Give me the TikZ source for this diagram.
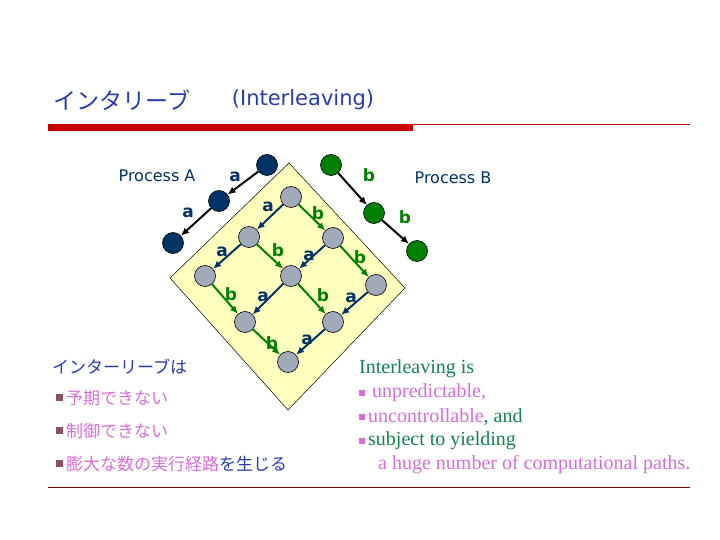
\documentclass[tikz,border=0pt]{standalone}
\usepackage{fontspec}
\setmainfont{Liberation Serif}
\newfontfamily\jp{Noto Sans CJK JP}
\newfontfamily\sans{DejaVu Sans}
\usetikzlibrary{arrows.meta}
\definecolor{navy}{RGB}{0,51,102}
\definecolor{grn}{RGB}{0,128,0}
\definecolor{gry}{RGB}{160,170,185}
\definecolor{ttl}{RGB}{40,60,170}
\definecolor{pnk}{RGB}{215,110,215}
\definecolor{egr}{RGB}{20,130,80}
\definecolor{bar}{RGB}{200,0,0}
\definecolor{yel}{RGB}{255,255,190}
\definecolor{bul}{RGB}{140,80,100}
\begin{document}
\begin{tikzpicture}[x=1pt,y=-1pt,
  st/.style={circle,draw=black,line width=0.6pt,minimum size=21pt,inner sep=0pt},
  gs/.style={st,fill=gry},
  as/.style={st,fill=navy},
  bs/.style={st,fill=grn},
  ea/.style={-{Latex[length=8pt,width=7pt]},line width=2pt,draw=navy},
  eb/.style={-{Latex[length=8pt,width=7pt]},line width=2pt,draw=grn},
  ep/.style={-{Latex[length=8pt,width=7pt]},line width=2pt,draw=black},
  la/.style={text=navy,font=\sans\bfseries\fontsize{17}{17}\selectfont,inner sep=0pt},
  lb/.style={text=grn,font=\sans\bfseries\fontsize{17}{17}\selectfont,inner sep=0pt},
  pl/.style={text=navy,font=\sans\fontsize{16}{16}\selectfont,inner sep=0pt},
  jl/.style={font=\jp\fontsize{17}{17}\selectfont,anchor=west,inner sep=0pt},
  el/.style={font=\fontsize{20}{20}\selectfont,anchor=west,inner sep=0pt}]
\path[use as bounding box] (0,0) rectangle (720,540);
% title
\node[text=ttl,font=\jp\fontsize{23}{23}\selectfont] (t1) at (122,100) {インタリーブ};
\node[text=ttl,font=\sans\fontsize{21}{21}\selectfont] (t2) at (303,100) {(Interleaving)};
\fill[bar] (48,124) rectangle (413,131);
\draw[bar,line width=0.6pt] (413,124) -- (690,124);
\draw[bar!70!black,line width=0.8pt] (48,487) -- (690,487);
% diamond
\draw[fill=yel,line width=0.5pt] (289,163) -- (405,288) -- (288,410) -- (170,278) -- cycle;
% grid
\node[gs] (g00) at (291,197) {};
\node[gs] (g10) at (249,237) {};
\node[gs] (g01) at (333,238) {};
\node[gs] (g20) at (205,276) {};
\node[gs] (g11) at (291,276) {};
\node[gs] (g02) at (376,285) {};
\node[gs] (g21) at (245,322) {};
\node[gs] (g12) at (333,322) {};
\node[gs] (g22) at (288,362) {};
\draw[ea] (g00)--(g10); \draw[eb] (g00)--(g01);
\draw[ea] (g10)--(g20); \draw[eb] (g10)--(g11);
\draw[ea] (g01)--(g11); \draw[eb] (g01)--(g02);
\draw[eb] (g20)--(g21); \draw[ea] (g11)--(g21);
\draw[eb] (g11)--(g12); \draw[ea] (g02)--(g12);
\draw[eb] (g21)--(g22); \draw[ea] (g12)--(g22);
% processes
\node[as] (a0) at (267,165) {};
\node[as] (a1) at (219,201) {};
\node[as] (a2) at (173,243) {};
\node[bs] (b0) at (331,165) {};
\node[bs] (b1) at (374,213) {};
\node[bs] (b2) at (417,251) {};
\draw[ep] (a0)--(a1); \draw[ep] (a1)--(a2);
\draw[ep] (b0)--(b1); \draw[ep] (b1)--(b2);
\node[pl] (pa) at (157,176) {Process A};
\node[pl] (pb) at (453,178) {Process B};
\node[la] (l1) at (235,177) {a};
\node[la] (l2) at (188,213) {a};
\node[lb] (l3) at (369,175) {b};
\node[lb] (l4) at (405,217) {b};
\node[la] (m1) at (268,207) {a};
\node[lb] (m2) at (318,213) {b};
\node[la] (m3) at (222,252) {a};
\node[lb] (m4) at (278,250) {b};
\node[la] (m5) at (309,256) {a};
\node[lb] (m6) at (360,257) {b};
\node[lb] (m7) at (231,294) {b};
\node[la] (m8) at (263,297) {a};
\node[lb] (m9) at (323,295) {b};
\node[la] (m10) at (351,298) {a};
\node[lb] (m11) at (272,343) {b};
\node[la] (m12) at (307,340) {a};
% left text
\node[jl,text=ttl] (j0) at (52,367) {インターリーブは};
\fill[bul] (56,394) rectangle (63,401); \node[jl,text=pnk] (j1) at (66,398) {予期できない};
\fill[bul] (56,427) rectangle (63,434); \node[jl,text=pnk] (j2) at (66,431) {制御できない};
\fill[bul] (56,460) rectangle (63,467); \node[jl] (j3) at (66,464) {\textcolor{pnk}{膨大な数の実行経路}\textcolor{ttl}{を生じる}};
% right text
\node[el,text=egr] (e0) at (359,369) {Interleaving is};
\fill[pnk] (359,390) rectangle (365,396); \node[el,text=pnk] (e1) at (372,393) {unpredictable,};
\fill[pnk] (359,414) rectangle (365,420); \node[el] (e2) at (368,417) {\textcolor{pnk}{uncontrollable}\textcolor{egr}{, and}};
\fill[pnk] (359,438) rectangle (365,444); \node[el] (e3) at (368,441) {\textcolor{egr}{subject to yielding}};
\node[el,text=pnk] (e4) at (378,465) {a huge number of computational paths.};
\end{tikzpicture}
\end{document}
